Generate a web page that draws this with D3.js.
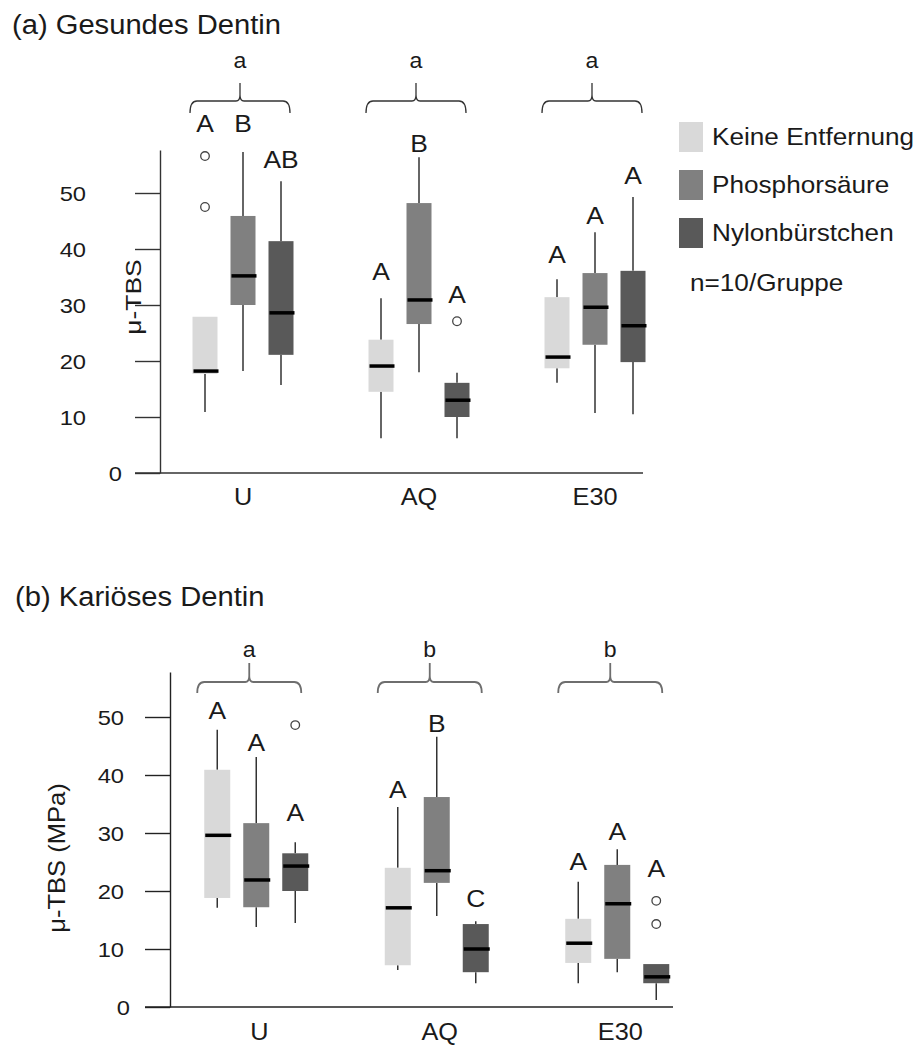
<!DOCTYPE html>
<html><head><meta charset="utf-8">
<script src="https://cdn.jsdelivr.net/npm/d3@7"></script>
<style>body{margin:0;background:#fff}svg{display:block}</style>
</head><body>
<svg id="c" width="920" height="1048"></svg>
<script>
// ---------- data ----------
const groups = ["U", "AQ", "E30"];
const series = ["Keine Entfernung", "Phosphorsäure", "Nylonbürstchen"];
const ticks = [0, 10, 20, 30, 40, 50];

// panel (a) Gesundes Dentin: [lower whisker, Q1, median, Q3, upper whisker]
const statsA_U   = [[10.9, 17.7, 18.2, 27.9, 27.9], [18.2, 30.0, 35.2, 45.9, 57.3], [15.7, 21.1, 28.6, 41.4, 52.1]];
const statsA_AQ  = [[6.2, 14.5, 19.1, 23.8, 31.2], [18.0, 26.6, 30.9, 48.2, 56.4], [6.2, 10.0, 13.0, 16.1, 17.9]];
const statsA_E30 = [[16.1, 18.7, 20.7, 31.4, 34.6], [10.7, 22.9, 29.6, 35.7, 43.0], [10.5, 19.8, 26.3, 36.1, 49.3]];
const outliersA  = [[[47.5, 56.6], [], []], [[], [], [27.1]], [[], [], []]];
const lettersA   = [["A", "B", "AB"], ["A", "B", "A"], ["A", "A", "A"]];
const letterValA = [[60.9, 60.9, 54.5], [34.5, 57.3, 30.4], [37.5, 44.5, 51.6]];
const braceLettersA = ["a", "a", "a"];

// panel (b) Kariöses Dentin
const statsB_U   = [[17.1, 18.8, 29.6, 40.9, 47.8], [13.8, 17.2, 21.9, 31.7, 43.1], [14.5, 20.0, 24.3, 26.5, 28.4]];
const statsB_AQ  = [[6.4, 7.2, 17.1, 24.0, 34.5], [15.7, 21.4, 23.5, 36.2, 46.6], [4.1, 6.0, 10.0, 14.3, 14.8]];
const statsB_E30 = [[4.1, 7.6, 11.0, 15.2, 21.6], [6.0, 8.3, 17.8, 24.5, 27.2], [1.2, 4.1, 5.2, 7.4, 7.4]];
const outliersB  = [[[], [], [48.6]], [[], [], []], [[], [], [14.3, 18.3]]];
const lettersB   = [["A", "A", "A"], ["A", "B", "C"], ["A", "A", "A"]];
const letterValB = [[49.7, 44.1, 32.1], [36.0, 47.4, 17.2], [23.6, 28.8, 22.4]];
const braceLettersB = ["a", "b", "b"];

const colors = ["#d9d9d9", "#808080", "#595959"];
const FONT = "'Liberation Sans', Arial, Helvetica, sans-serif";

// ---------- drawing ----------
const svg = d3.select("#c");

function txt(x, y, s, size, sx, anchor, rot, fill) {
  return svg.append("text")
    .attr("transform", `translate(${x},${y}) rotate(${rot || 0}) scale(${sx},1)`)
    .attr("font-family", FONT).attr("font-size", size)
    .attr("text-anchor", anchor || "start")
    .attr("fill", fill || "#1a1a1a")
    .text(s);
}

function drawPanel(cfg, stats, outliers, letters, letterVals, braceLetters) {
  const y = d3.scaleLinear().domain([0, cfg.yMax]).range([cfg.y0, cfg.yTop]);
  const gx = d3.scaleBand().domain(groups).range(cfg.gRange);
  const ix = d3.scalePoint().domain(series).range(cfg.inner);
  const gc = g => gx(g) + gx.bandwidth() / 2;
  const cx = (gi, si) => gc(groups[gi]) + ix(series[si]);

  // y axis
  const ag = svg.append("g").attr("transform", `translate(${cfg.axisX},0)`)
    .call(d3.axisLeft(y).tickValues(ticks).tickSize(25).tickSizeOuter(0).tickFormat(d3.format("d")));
  ag.select(".domain").attr("stroke", cfg.axisColor).attr("stroke-width", 1.4);
  ag.selectAll(".tick line").attr("stroke", cfg.axisColor).attr("stroke-width", 1.4);
  ag.selectAll(".tick text")
    .attr("font-family", FONT).attr("font-size", 21).attr("fill", "#1a1a1a")
    .attr("text-anchor", "end").attr("dy", "0.36em")
    .attr("x", d => (d === 0 ? cfg.lab0 : cfg.labX) / 1.13)
    .attr("transform", "scale(1.13,1)");

  // x axis line
  svg.append("line").attr("x1", cfg.axisX - 25).attr("x2", cfg.xEnd)
    .attr("y1", y(0)).attr("y2", y(0)).attr("stroke", cfg.axisColor).attr("stroke-width", 1.4);

  // category labels
  groups.forEach(g => txt(gc(g) + cfg.catShift, cfg.catY, g, 23, 1.1, "middle"));

  // y label
  txt(cfg.ylabX, cfg.ylabY, cfg.ylab, cfg.ylabSize, cfg.ylabSx, "middle", -90);

  const allStats = stats;
  allStats.forEach((gs, gi) => {
    gs.forEach((s, si) => {
      const [lo, q1, med, q3, hi] = s;
      const c = cx(gi, si), bw = cfg.bw;
      // whiskers
      if (hi > q3) svg.append("line").attr("x1", c).attr("x2", c).attr("y1", y(hi)).attr("y2", y(q3))
        .attr("stroke", "#333").attr("stroke-width", 1.5);
      if (lo < q1) svg.append("line").attr("x1", c).attr("x2", c).attr("y1", y(q1)).attr("y2", y(lo))
        .attr("stroke", "#333").attr("stroke-width", 1.5);
      // box
      svg.append("rect").attr("x", c - bw / 2).attr("width", bw)
        .attr("y", y(q3)).attr("height", y(q1) - y(q3)).attr("fill", colors[si]);
      // median
      svg.append("line").attr("x1", c - bw / 2 + 1).attr("x2", c + bw / 2 + 1)
        .attr("y1", y(med)).attr("y2", y(med)).attr("stroke", "#000").attr("stroke-width", 3.5);
      // outliers
      outliers[gi][si].forEach(o => svg.append("circle").attr("cx", c).attr("cy", y(o)).attr("r", 4.3)
        .attr("fill", "#fff").attr("stroke", "#444").attr("stroke-width", 1.3));
      // significance letters
      txt(c, y(letterVals[gi][si]), letters[gi][si], 24, 1.1, "middle");
    });
    // brace
    const bc = gc(groups[gi]) + cfg.braceShift, w = cfg.braceW;
    const L = cfg.braceLine, E = cfg.braceEnd, P = cfg.bracePeak;
    const p = d3.path();
    p.moveTo(bc - w, E);
    p.quadraticCurveTo(bc - w, L, bc - w + 7, L);
    p.lineTo(bc - 4, L);
    p.quadraticCurveTo(bc, L, bc, L - 6);
    p.lineTo(bc, P);
    p.moveTo(bc, L - 6);
    p.quadraticCurveTo(bc, L, bc + 4, L);
    p.lineTo(bc + w - 7, L);
    p.quadraticCurveTo(bc + w, L, bc + w, E);
    svg.append("path").attr("d", p.toString()).attr("fill", "none")
      .attr("stroke", cfg.braceColor).attr("stroke-width", cfg.braceWidth);
    txt(bc, cfg.braceLetterY, braceLetters[gi], 22, 1.05, "middle");
  });

  txt(cfg.titleX, cfg.titleY, cfg.title, 27, 1.08, "start");
}

drawPanel({
  title: "(a) Gesundes Dentin", titleX: 12, titleY: 34,
  axisX: 160, y0: 473, yTop: 150, yMax: 323 / 5.6, xEnd: 643,
  gRange: [154, 682], inner: [-37, 39], bw: 25,
  axisColor: "#333", lab0: -38, labX: -74,
  catY: 505, catShift: 1,
  ylab: "μ-TBS", ylabX: 141, ylabY: 297, ylabSize: 22, ylabSx: 1.2,
  braceShift: -2, braceW: 50, braceLine: 101, braceEnd: 113, bracePeak: 83,
  braceColor: "#333", braceWidth: 1.3, braceLetterY: 68
}, [statsA_U, statsA_AQ, statsA_E30], outliersA, lettersA, letterValA, braceLettersA);

drawPanel({
  title: "(b) Kariöses Dentin", titleX: 15, titleY: 606,
  axisX: 170, y0: 1007, yTop: 672, yMax: 335 / 5.8, xEnd: 673,
  gRange: [163, 704.5], inner: [-36, 42], bw: 26,
  axisColor: "#222", lab0: -40, labX: -46,
  catY: 1040, catShift: 6,
  ylab: "μ-TBS (MPa)", ylabX: 65, ylabY: 858, ylabSize: 23, ylabSx: 1.11,
  braceShift: -4, braceW: 52, braceLine: 682, braceEnd: 693, bracePeak: 663,
  braceColor: "#6e6e6e", braceWidth: 1.8, braceLetterY: 657
}, [statsB_U, statsB_AQ, statsB_E30], outliersB, lettersB, letterValB, braceLettersB);

// legend
const lg = d3.scalePoint().domain(series).range([122, 218]);
series.forEach((s, i) => {
  svg.append("rect").attr("x", 679).attr("y", lg(s)).attr("width", 24).attr("height", 30).attr("fill", colors[i]);
  txt(712, lg(s) + 23, s, 24, 1.09, "start");
});
txt(690, 291, "n=10/Gruppe", 24, 1.09, "start");
</script>
</body></html>
